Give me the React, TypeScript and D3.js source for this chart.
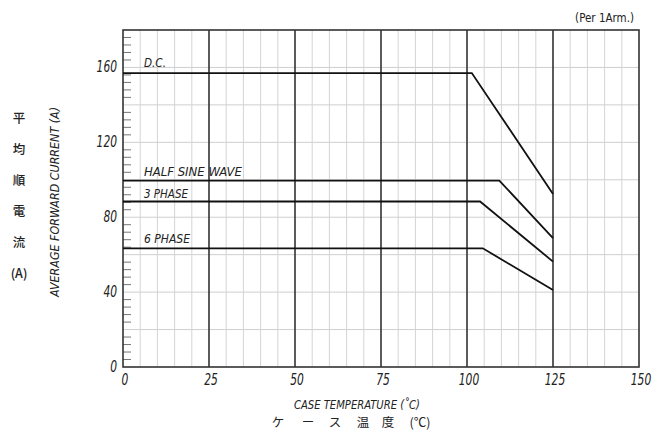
import React from "react";
import * as d3 from "d3";

const xTicks = [0, 25, 50, 75, 100, 125, 150];
const yTicks = [0, 40, 80, 120, 160];
const seriesNames = ["D.C.", "HALF SINE WAVE", "3 PHASE", "6 PHASE"];
// [x (case temp), y (current)] points per series
const dcPts: [number, number][] = [[0, 157], [101.4, 157], [125, 92.4]];
const halfSinePts: [number, number][] = [[0, 99.6], [109.4, 99.6], [125, 68.8]];
const phase3Pts: [number, number][] = [[0, 88.4], [103.8, 88.4], [125, 56.3]];
const phase6Pts: [number, number][] = [[0, 63.4], [104.6, 63.4], [125, 41.1]];
const labelY = [160, 102, 90.5, 66];
const jpYLabel = ["平", "均", "順", "電", "流", "(A)"];
const jpXLabel = ["ケ", "ー", "ス", "温", "度", "(℃)"];

const W = 669, H = 433;
const L = 123, R = 639, T = 30, B = 367;

export default function App() {
  const x = d3.scaleLinear().domain([0, 150]).range([L, R]);
  const y = d3.scaleLinear().domain([0, 180]).range([B, T]);
  const line = d3.line<[number, number]>().x(d => x(d[0])).y(d => y(d[1]));
  const series = [dcPts, halfSinePts, phase3Pts, phase6Pts];
  const font = "'DejaVu Sans Condensed', 'Liberation Sans Narrow', sans-serif";
  const minorX = d3.range(5, 150, 5).filter(v => v % 25 !== 0);
  const gridY = d3.range(20, 180, 20);
  const tickY = d3.range(4, 180, 4).filter(v => v % 20 !== 0);
  const jpXPos = [278, 308, 335, 363, 388, 420];
  const textW = [22, 98, 44, 46];
  return (
    <svg width={W} height={H} style={{ position: "absolute", left: 0, top: 0, background: "#fff" }}>
      <rect x={0} y={0} width={W} height={H} fill="#fff" />
      {gridY.map(v => (
        <line key={"gy" + v} x1={L} x2={R} y1={y(v)} y2={y(v)} stroke="#cfcfcf" strokeWidth={1} />
      ))}
      {minorX.map(v => (
        <line key={"mx" + v} x1={x(v)} x2={x(v)} y1={T} y2={B} stroke="#d4d4d4" strokeWidth={1} />
      ))}
      {xTicks.slice(1, -1).map(v => (
        <line key={"Mx" + v} x1={x(v)} x2={x(v)} y1={T} y2={B} stroke="#333" strokeWidth={1.6} />
      ))}
      {tickY.map(v => (
        <line key={"ty" + v} x1={L} x2={L + 8} y1={y(v)} y2={y(v)} stroke="#777" strokeWidth={1} />
      ))}
      <rect x={L} y={T} width={R - L} height={B - T} fill="none" stroke="#333" strokeWidth={1.6} />
      {series.map((s, i) => (
        <path key={"s" + i} d={line(s) || ""} fill="none" stroke="#111" strokeWidth={1.8} />
      ))}
      {seriesNames.map((n, i) => (
        <text key={"ln" + i} x={144} y={y(labelY[i])} fontFamily={font} fontStyle="italic" fontSize={13}
          fill="#222" textLength={textW[i]} lengthAdjust="spacingAndGlyphs">{n}</text>
      ))}
      {yTicks.map(v => (
        <text key={"yl" + v} x={117} y={y(v) + 5} textAnchor="end" fontFamily={font} fontStyle="italic"
          fontSize={15} fill="#222" textLength={String(v).length * 6.8} lengthAdjust="spacingAndGlyphs">{v}</text>
      ))}
      {xTicks.map(v => (
        <text key={"xl" + v} x={x(v) + 2} y={385} textAnchor="middle" fontFamily={font} fontStyle="italic"
          fontSize={15} fill="#222" textLength={String(v).length * 6.8} lengthAdjust="spacingAndGlyphs">{v}</text>
      ))}
      <text transform={`translate(59,202) rotate(-90)`} textAnchor="middle" fontFamily={font}
        fontStyle="italic" fontSize={12.5} fill="#222" textLength={190} lengthAdjust="spacingAndGlyphs">AVERAGE FORWARD CURRENT (A)</text>
      {jpYLabel.map((c, i) => (
        <text key={"jy" + i} x={19} y={123 + i * 31} textAnchor="middle"
          fontFamily="'Noto Sans CJK JP', sans-serif" fontSize={12.5} fontWeight={500} fill="#222">{c}</text>
      ))}
      <text x={357} y={409} textAnchor="middle" fontFamily={font} fontStyle="italic" fontSize={12}
        fill="#222" textLength={126} lengthAdjust="spacingAndGlyphs">CASE TEMPERATURE (˚C)</text>
      {jpXLabel.map((c, i) => (
        <text key={"jx" + i} x={jpXPos[i]} y={427} textAnchor="middle"
          fontFamily="'Noto Sans CJK JP', sans-serif" fontSize={12.5} fill="#222">{c}</text>
      ))}
      <text x={634} y={22} textAnchor="end" fontFamily={font} fontSize={11.5} fill="#222">(Per 1Arm.)</text>
    </svg>
  );
}
